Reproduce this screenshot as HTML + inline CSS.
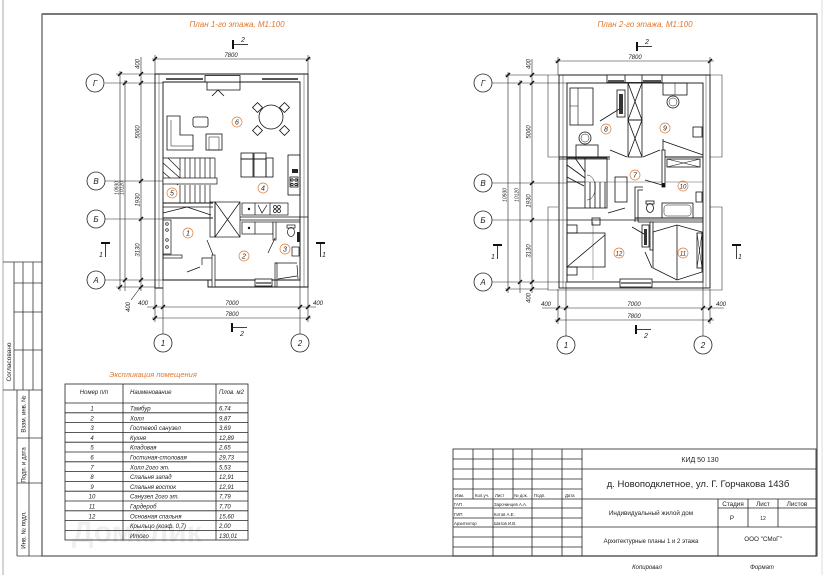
<!DOCTYPE html>
<html><head><meta charset="utf-8">
<style>
html,body{margin:0;padding:0;background:#fff;}
svg{display:block;}
text{font-family:"Liberation Sans","DejaVu Sans",sans-serif;fill:#222;}
.it{font-style:italic;}
.or{fill:#e0782f;}
</style></head><body>
<svg width="826" height="575" viewBox="0 0 826 575" xmlns="http://www.w3.org/2000/svg">
<rect width="826" height="575" fill="#fff"/>

<!-- watermark -->
<text x="72" y="542" font-size="30" font-weight="bold" style="fill:#efefef">Домклик</text>

<!-- page frame -->
<line x1="3" y1="0" x2="3" y2="575" stroke="#aaa" stroke-width="1"/>
<line x1="822" y1="0" x2="822" y2="575" stroke="#ddd" stroke-width="1"/>
<rect x="42" y="14" width="775" height="542" fill="none" stroke="#555" stroke-width="1.2"/>
<line x1="42" y1="14" x2="817" y2="14" stroke="#777" stroke-width="2"/>

<!-- left strip -->
<g stroke="#333" stroke-width="0.8" fill="none">
<line x1="3" y1="262" x2="42" y2="262"/>
<line x1="14" y1="262" x2="14" y2="390"/>
<line x1="23" y1="262" x2="23" y2="390"/>
<line x1="33" y1="262" x2="33" y2="390"/>
<line x1="14" y1="283" x2="42" y2="283"/>
<line x1="14" y1="312" x2="42" y2="312"/>
<line x1="14" y1="350" x2="42" y2="350"/>
<line x1="3" y1="390" x2="42" y2="390"/>
<line x1="17" y1="390" x2="17" y2="556"/>
<line x1="29" y1="390" x2="29" y2="556"/>
<line x1="17" y1="438" x2="42" y2="438"/>
<line x1="17" y1="483" x2="42" y2="483"/>
<line x1="17" y1="556" x2="42" y2="556"/>
</g>
<g font-size="6.5" text-anchor="middle">
<text transform="translate(11,362) rotate(-90)">Согласовано</text>
<text transform="translate(25.5,414) rotate(-90)" font-size="6">Взам. инв. №</text>
<text transform="translate(25.5,465) rotate(-90)" font-size="6">Подп. и дата</text>
<text transform="translate(25.5,530) rotate(-90)" font-size="6">Инв. № подл.</text>
</g>

<!-- ================= FIRST FLOOR ================= -->
<text x="237" y="27" class="it or" font-size="8" text-anchor="middle">План 1-го этажа, М1:100</text>

<!-- section marks 2 -->
<g stroke="#111" fill="none">
<line x1="233" y1="40" x2="233" y2="49" stroke-width="2"/>
<line x1="233" y1="44.5" x2="248" y2="44.5" stroke-width="0.8"/>
<line x1="232" y1="323" x2="232" y2="332" stroke-width="2"/>
<line x1="232" y1="327.5" x2="247" y2="327.5" stroke-width="0.8"/>
<!-- section 1 -->
<line x1="101" y1="243" x2="110" y2="243" stroke-width="2"/>
<line x1="105.5" y1="243" x2="105.5" y2="257" stroke-width="0.8"/>
<line x1="316" y1="243" x2="325" y2="243" stroke-width="2"/>
<line x1="320.5" y1="243" x2="320.5" y2="257" stroke-width="0.8"/>
</g>
<g class="it" font-size="7">
<text x="241" y="42">2</text>
<text x="240" y="336">2</text>
<text x="99" y="257">1</text>
<text x="322" y="257">1</text>
</g>

<!-- dimension lines first floor -->
<g stroke="#222" stroke-width="0.6" fill="none">
<line x1="152" y1="59" x2="311" y2="59"/>
<line x1="155" y1="55" x2="155" y2="74"/>
<line x1="308" y1="55" x2="308" y2="74"/>
<line x1="147" y1="307" x2="316" y2="307"/>
<line x1="152" y1="318" x2="311" y2="318"/>
<line x1="155" y1="287" x2="155" y2="322"/>
<line x1="308" y1="287" x2="308" y2="322"/>
<line x1="163" y1="280" x2="163" y2="334"/>
<line x1="300" y1="280" x2="300" y2="334"/>
<line x1="141" y1="57" x2="141" y2="291"/>
<line x1="125" y1="80" x2="125" y2="291"/>
<line x1="120" y1="71" x2="120" y2="291"/>
<line x1="116" y1="74" x2="155" y2="74"/>
<line x1="116" y1="287" x2="155" y2="287"/>
<line x1="105" y1="83" x2="163" y2="83"/>
<line x1="105" y1="181" x2="163" y2="181"/>
<line x1="105" y1="219" x2="163" y2="219"/>
<line x1="105" y1="280" x2="163" y2="280"/>
<line x1="140" y1="288" x2="131" y2="300"/>
</g>
<g stroke="#111" stroke-width="1.4">
<line x1="153" y1="61" x2="157" y2="57"/><line x1="306" y1="61" x2="310" y2="57"/>
<line x1="153" y1="309" x2="157" y2="305"/><line x1="161" y1="309" x2="165" y2="305"/>
<line x1="298" y1="309" x2="302" y2="305"/><line x1="306" y1="309" x2="310" y2="305"/>
<line x1="153" y1="320" x2="157" y2="316"/><line x1="306" y1="320" x2="310" y2="316"/>
<line x1="139" y1="76" x2="143" y2="72"/><line x1="139" y1="85" x2="143" y2="81"/>
<line x1="139" y1="183" x2="143" y2="179"/><line x1="139" y1="221" x2="143" y2="217"/>
<line x1="139" y1="282" x2="143" y2="278"/><line x1="139" y1="289" x2="143" y2="285"/>
<line x1="123" y1="85" x2="127" y2="81"/><line x1="123" y1="282" x2="127" y2="278"/>
<line x1="118" y1="76" x2="122" y2="72"/><line x1="118" y1="289" x2="122" y2="285"/>
</g>
<g class="it" font-size="6" text-anchor="middle">
<text x="231" y="57">7800</text>
<text x="143" y="305">400</text>
<text x="232" y="305">7000</text>
<text x="318" y="305">400</text>
<text x="232" y="316">7800</text>
<text transform="translate(139.5,64) rotate(-90)">400</text>
<text transform="translate(139.5,132) rotate(-90)">5060</text>
<text transform="translate(139.5,200) rotate(-90)">1930</text>
<text transform="translate(139.5,250) rotate(-90)">3130</text>
<text transform="translate(118.5,188) rotate(-90)" font-size="5">10930</text>
<text transform="translate(123.5,188) rotate(-90)" font-size="5">10120</text>
<text transform="translate(130,307) rotate(-90)">400</text>
</g>
<!-- grid circles -->
<g stroke="#222" stroke-width="0.8" fill="#fff">
<circle cx="95" cy="83" r="9"/><circle cx="96" cy="181" r="9"/>
<circle cx="96" cy="219" r="9"/><circle cx="96" cy="280" r="9"/>
<circle cx="163" cy="343" r="9"/><circle cx="300" cy="343" r="9"/>
</g>
<g class="it" font-size="8" text-anchor="middle">
<text x="95" y="86">Г</text><text x="96" y="184">В</text>
<text x="96" y="222">Б</text><text x="96" y="283">А</text>
<text x="163" y="346">1</text><text x="300" y="346">2</text>
</g>

<!-- walls -->
<g stroke="#111" stroke-width="0.9" fill="none">
<path d="M155,74 H308 V287 H208 V280"/>
<path d="M155,74 V288 H163"/>
<path d="M163,82 H300 V280 H163 Z"/>
<line x1="159" y1="74" x2="159" y2="288" stroke-width="0.4"/>
<line x1="304" y1="74" x2="304" y2="287" stroke-width="0.4"/>
</g>
<!-- windows -->
<g stroke="#555" stroke-width="2">
<line x1="166" y1="79" x2="203" y2="79"/>
<line x1="262" y1="79" x2="298" y2="79"/>
</g>
<rect x="255" y="279" width="17" height="7" fill="#fff" stroke="#111" stroke-width="0.8"/>
<line x1="256" y1="283" x2="271" y2="283" stroke="#555" stroke-width="1.5"/>
<!-- fireplace -->
<g stroke="#111" stroke-width="0.8" fill="#fff">
<rect x="205" y="75.5" width="35" height="6.5"/>
<path d="M207,82 V90 H240 V82" fill="none"/>
<path d="M212,96 L218,90 L224,96" fill="none"/>
</g>

<!-- living furniture -->
<g stroke="#111" stroke-width="0.8" fill="none">
<path d="M167,116 H180 V135 H193 V150 H167 Z"/>
<path d="M171,120 V146 H193" stroke-width="0.5"/>
<rect x="193" y="117" width="15" height="10" rx="2"/>
<rect x="206" y="134" width="16" height="16"/>
<rect x="209" y="137" width="10" height="13" stroke-width="0.5"/>
<circle cx="271" cy="117" r="12"/>
<rect x="254" y="104" width="7" height="7" transform="rotate(45 257.5 107.5)"/>
<rect x="281" y="104" width="7" height="7" transform="rotate(45 284.5 107.5)"/>
<rect x="254" y="127" width="7" height="7" transform="rotate(45 257.5 130.5)"/>
<rect x="281" y="127" width="7" height="7" transform="rotate(45 284.5 130.5)"/>
<!-- bar stools -->
<rect x="241" y="153" width="12" height="6"/>
<rect x="254" y="153" width="12" height="6"/>
<rect x="241" y="159" width="12" height="18"/>
<rect x="254" y="159" width="12" height="18"/>
<rect x="266" y="158" width="7" height="19"/>
<!-- kitchen right -->
<rect x="288" y="155" width="12" height="40"/>
<rect x="290" y="177" width="8" height="10"/>
<circle cx="292" cy="180" r="1.2"/><circle cx="296" cy="180" r="1.2"/>
<circle cx="292" cy="184.5" r="1.2"/><circle cx="296" cy="184.5" r="1.2"/>
</g>
<rect x="292" y="169" width="6" height="4" fill="#222"/>

<!-- stairs first floor -->
<g stroke="#111" stroke-width="0.7" fill="none">
<path d="M163,158 H215"/>
<path d="M180,158 V178 M185,158 V178 M190,158 V178 M195,158 V178 M200,158 V178 M205,158 V178 M210,158 V178 M215,158 V178"/>
<path d="M163,163 L180,178 M168,158 L180,170 M163,172 L178,185"/>
<rect x="163" y="178" width="54" height="6" fill="#fff"/>
<path d="M180,185 V203 M185,185 V203 M190,185 V203 M195,185 V203 M200,185 V203 M205,185 V203 M210,185 V203"/>
<line x1="163" y1="203" x2="213" y2="203" stroke-width="0.9"/>
<line x1="163" y1="207" x2="213" y2="207"/>
<path d="M163,213 L187,207 L211,215"/>
<line x1="163" y1="218" x2="213" y2="218" stroke-width="0.9"/>
<rect x="210" y="202" width="5" height="35"/>
<rect x="215" y="202" width="25" height="35"/>
<path d="M215,202 L240,237 M240,202 L215,237"/>
<!-- kitchen counters -->
<rect x="242" y="203" width="46" height="12"/>
<line x1="255" y1="203" x2="255" y2="215"/>
<line x1="270" y1="203" x2="270" y2="215"/>
<path d="M258,205 L262,213 L267,205"/>
<circle cx="275" cy="207" r="1.5"/><circle cx="279" cy="207" r="1.5"/>
<circle cx="275" cy="211" r="1.5"/><circle cx="279" cy="211" r="1.5"/>
<line x1="240" y1="217" x2="308" y2="217"/>
<line x1="240" y1="220" x2="300" y2="220"/>
<rect x="242" y="222" width="31" height="12"/>
<line x1="255" y1="222" x2="255" y2="234"/>
<!-- bathroom 3 -->
<rect x="273" y="222" width="3" height="18" fill="#fff"/>
<line x1="276" y1="222" x2="300" y2="222"/>
<ellipse cx="291" cy="232" rx="3.5" ry="4.5"/>
<rect x="287" y="225" width="8" height="3"/>
<rect x="292" y="247" width="7" height="9"/>
<line x1="275" y1="263" x2="297" y2="263"/>
<rect x="275" y="263" width="2" height="24"/>
<path d="M297,265 L298,279 M278,279 L297,276"/>
<!-- room 1 -->
<rect x="163" y="220" width="8" height="34"/>
<circle cx="167" cy="224" r="1.3"/><circle cx="167" cy="230" r="1.3"/>
<circle cx="167" cy="240" r="1.3"/><circle cx="167" cy="247" r="1.3"/>
<rect x="163" y="255" width="19" height="3"/>
<path d="M207,240 L213,255"/>
<rect x="212" y="255" width="3" height="32" fill="#fff"/>
<path d="M202,265 V258 H212"/>
<path d="M187,272 L200,267"/>
<path d="M268,253 L275,238"/>
</g>
<rect x="297" y="232" width="3" height="10" fill="#222"/>
<circle cx="249" cy="209" r="1.2" fill="#111"/>
<circle cx="249" cy="228" r="1.2" fill="#111"/>

<!-- room labels first floor -->
<g stroke="#e0782f" stroke-width="0.7" fill="none">
<circle cx="237" cy="122" r="5"/><circle cx="263" cy="188" r="5"/>
<circle cx="172" cy="193" r="5"/><circle cx="188" cy="233" r="5"/>
<circle cx="244" cy="256" r="5"/><circle cx="285" cy="249" r="5"/>
</g>
<g class="it or" font-size="7" text-anchor="middle">
<text x="237" y="124.5">6</text><text x="263" y="190.5">4</text>
<text x="172" y="195.5">5</text><text x="188" y="235.5">1</text>
<text x="244" y="258.5">2</text><text x="285" y="251.5">3</text>
</g>

<!-- ================= SECOND FLOOR ================= -->
<text x="645" y="27" class="it or" font-size="8" text-anchor="middle">План 2-го этажа, М1:100</text>

<g stroke="#111" fill="none">
<line x1="637" y1="42" x2="637" y2="51" stroke-width="2"/>
<line x1="637" y1="46.5" x2="652" y2="46.5" stroke-width="0.8"/>
<line x1="636" y1="325" x2="636" y2="334" stroke-width="2"/>
<line x1="636" y1="329.5" x2="651" y2="329.5" stroke-width="0.8"/>
<line x1="493" y1="245" x2="502" y2="245" stroke-width="2"/>
<line x1="497.5" y1="245" x2="497.5" y2="259" stroke-width="0.8"/>
<line x1="732" y1="245" x2="741" y2="245" stroke-width="2"/>
<line x1="736.5" y1="245" x2="736.5" y2="259" stroke-width="0.8"/>
</g>
<g class="it" font-size="7">
<text x="645" y="44">2</text>
<text x="644" y="338">2</text>
<text x="491" y="259">1</text>
<text x="738" y="259">1</text>
</g>

<g stroke="#222" stroke-width="0.6" fill="none">
<line x1="555" y1="61" x2="714" y2="61"/>
<line x1="558" y1="57" x2="558" y2="75"/>
<line x1="710" y1="57" x2="710" y2="75"/>
<line x1="542" y1="308" x2="724" y2="308"/>
<line x1="555" y1="320" x2="714" y2="320"/>
<line x1="558" y1="289" x2="558" y2="324"/>
<line x1="710" y1="289" x2="710" y2="324"/>
<line x1="566" y1="282" x2="566" y2="336"/>
<line x1="703" y1="282" x2="703" y2="336"/>
<line x1="532" y1="59" x2="532" y2="293"/>
<line x1="520" y1="80" x2="520" y2="293"/>
<line x1="508" y1="72" x2="508" y2="293"/>
<line x1="505" y1="75" x2="548" y2="75"/>
<line x1="505" y1="289" x2="548" y2="289"/>
<line x1="492" y1="83" x2="567" y2="83"/>
<line x1="492" y1="183" x2="567" y2="183"/>
<line x1="492" y1="220" x2="567" y2="220"/>
<line x1="492" y1="282" x2="567" y2="282"/>
</g>
<g stroke="#111" stroke-width="1.4">
<line x1="556" y1="63" x2="560" y2="59"/><line x1="708" y1="63" x2="712" y2="59"/>
<line x1="556" y1="310" x2="560" y2="306"/><line x1="564" y1="310" x2="568" y2="306"/>
<line x1="701" y1="310" x2="705" y2="306"/><line x1="708" y1="310" x2="712" y2="306"/>
<line x1="556" y1="322" x2="560" y2="318"/><line x1="708" y1="322" x2="712" y2="318"/>
<line x1="530" y1="77" x2="534" y2="73"/><line x1="530" y1="85" x2="534" y2="81"/>
<line x1="530" y1="185" x2="534" y2="181"/><line x1="530" y1="222" x2="534" y2="218"/>
<line x1="530" y1="284" x2="534" y2="280"/><line x1="530" y1="291" x2="534" y2="287"/>
<line x1="518" y1="85" x2="522" y2="81"/><line x1="518" y1="284" x2="522" y2="280"/>
<line x1="506" y1="77" x2="510" y2="73"/><line x1="506" y1="291" x2="510" y2="287"/>
</g>
<g class="it" font-size="6" text-anchor="middle">
<text x="635" y="59">7800</text>
<text x="546" y="306">400</text>
<text x="634" y="306">7000</text>
<text x="721" y="306">400</text>
<text x="634" y="318">7800</text>
<text transform="translate(530.5,64) rotate(-90)">400</text>
<text transform="translate(530.5,132) rotate(-90)">5060</text>
<text transform="translate(530.5,201) rotate(-90)">1930</text>
<text transform="translate(530.5,251) rotate(-90)">3130</text>
<text transform="translate(506.5,195) rotate(-90)" font-size="5">10930</text>
<text transform="translate(518.5,195) rotate(-90)" font-size="5">10120</text>
<text transform="translate(530.5,298) rotate(-90)">400</text>
</g>
<g stroke="#222" stroke-width="0.8" fill="#fff">
<circle cx="483" cy="83" r="9"/><circle cx="483" cy="183" r="9"/>
<circle cx="483" cy="220" r="9"/><circle cx="483" cy="282" r="9"/>
<circle cx="566" cy="345" r="9"/><circle cx="703" cy="345" r="9"/>
</g>
<g class="it" font-size="8" text-anchor="middle">
<text x="483" y="86">Г</text><text x="483" y="186">В</text>
<text x="483" y="223">Б</text><text x="483" y="285">А</text>
<text x="566" y="348">1</text><text x="703" y="348">2</text>
</g>

<!-- eaves outline -->
<g stroke="#333" stroke-width="0.6" fill="none">
<path d="M558,157 H548 V75 H722 V157 H710"/>
<path d="M558,207 H548 V290 H722 V207 H710"/>
<line x1="567" y1="182" x2="703" y2="182" stroke-width="0.4"/>
<line x1="593" y1="222" x2="593" y2="280" stroke-width="0.4"/>
</g>
<!-- walls -->
<g stroke="#111" stroke-width="0.9" fill="none">
<rect x="559" y="75" width="151" height="213"/>
<rect x="567" y="83" width="136" height="199"/>
<line x1="563" y1="75" x2="563" y2="288" stroke-width="0.4"/>
<line x1="706" y1="75" x2="706" y2="288" stroke-width="0.4"/>
</g>
<rect x="607" y="75" width="55" height="7.5" fill="#fff" stroke="#111" stroke-width="0.8"/>
<rect x="625" y="75" width="17" height="7.5" fill="#fff" stroke="#111" stroke-width="0.8"/>
<g stroke="#555" stroke-width="2">
<line x1="608" y1="81" x2="624" y2="81"/>
<line x1="643" y1="81" x2="661" y2="81"/>
</g>
<rect x="620" y="279" width="32" height="8" fill="#fff" stroke="#111" stroke-width="0.8"/>
<line x1="621" y1="283" x2="651" y2="283" stroke="#555" stroke-width="1.5"/>

<g stroke="#111" stroke-width="0.8" fill="none">
<!-- closets center -->
<rect x="628" y="83" width="14" height="37"/>
<path d="M628,83 L642,120 M642,83 L628,120"/>
<rect x="628" y="120" width="14" height="37"/>
<path d="M628,120 L642,157 M642,120 L628,157"/>
<!-- bedroom 8 -->
<rect x="570" y="88" width="23" height="37"/>
<path d="M578,88 V125 M570,106 H578" stroke-width="0.6"/>
<rect x="617" y="90" width="8" height="27"/>
<path d="M600,121 L621,108"/>
<circle cx="585" cy="138" r="6"/>
<circle cx="585" cy="138" r="4" stroke-width="0.5"/>
<rect x="576" y="145" width="22" height="12"/>
<line x1="559" y1="157" x2="610" y2="157" stroke-width="1"/>
<line x1="559" y1="159" x2="610" y2="159"/>
<path d="M610,150 L627,157 M643,157 L660,150"/>
<line x1="662" y1="157" x2="703" y2="157" stroke-width="1"/>
<!-- bedroom 9 -->
<rect x="663" y="83" width="24" height="12"/>
<line x1="675" y1="83" x2="675" y2="95" stroke-width="0.5"/>
<circle cx="673" cy="102" r="6"/>
<circle cx="673" cy="102" r="4" stroke-width="0.5"/>
<rect x="693" y="127" width="9" height="10"/>
<path d="M663,139 V157 M663,141 L703,155"/>
<rect x="667" y="159" width="33" height="8"/>
<path d="M667,159 L700,167 M700,159 L667,167" stroke-width="0.6"/>
<!-- stairs -->
<rect x="567" y="158" width="40" height="50"/>
<path d="M567,165 L585,178 M575,158 L585,172 M567,177 L584,186"/>
<path d="M585,158 V208 M590,182 V208 M595,182 V208 M600,182 V208 M605,182 V208"/>
<path d="M567,182 H585"/>
<path d="M587,175 A8,12 0 0 1 587,200" stroke-width="0.5"/>
<!-- room 7 -->
<rect x="615" y="177" width="12" height="25"/>
<path d="M635,222 V187 H643 M638,222 V190 H643"/>
<path d="M645,180 L662,185"/>
<rect x="662" y="150" width="3" height="37" fill="#fff"/>
<path d="M608,213 L625,208"/>
<rect x="592" y="218" width="8" height="7"/>
<!-- bathroom 10 -->
<ellipse cx="650" cy="208" rx="3.5" ry="4.5"/>
<rect x="646" y="201" width="8" height="3"/>
<rect x="662" y="203" width="31" height="15"/>
<rect x="664" y="205" width="27" height="11" rx="3" stroke-width="0.5"/>
<rect x="696" y="192" width="6" height="10"/>
<line x1="635" y1="218" x2="703" y2="218" stroke-width="1"/>
<line x1="567" y1="220" x2="703" y2="220"/>
<line x1="638" y1="222" x2="703" y2="222"/>
<!-- bedroom 12 -->
<rect x="567" y="233" width="38" height="34"/>
<path d="M567,267 L605,235"/>
<rect x="567" y="225" width="10" height="8"/>
<rect x="567" y="267" width="10" height="8"/>
<rect x="642" y="225" width="7" height="22"/>
<path d="M632,227 L644,234 M645,252 L652,268"/>
<rect x="650" y="222" width="3" height="28" fill="#fff"/>
<!-- room 11 wardrobe -->
<path d="M653,232 L677,225 L702,232 V272 L677,280 L653,268 Z"/>
<line x1="677" y1="225" x2="677" y2="280"/>
<rect x="697" y="233" width="5" height="35"/>
<path d="M697,233 L702,268 M702,233 L697,268" stroke-width="0.5"/>
</g>
<rect x="619" y="94" width="4" height="20" fill="#333"/>
<rect x="644" y="229" width="3" height="16" fill="#333"/>
<rect x="662" y="183" width="3" height="4" fill="#111"/>

<g stroke="#e0782f" stroke-width="0.7" fill="none">
<circle cx="606" cy="129" r="5"/><circle cx="665" cy="128" r="5"/>
<circle cx="635" cy="175" r="5"/><circle cx="683" cy="186" r="5"/>
<circle cx="619" cy="253" r="5"/><circle cx="683" cy="253" r="5"/>
</g>
<g class="it or" font-size="7" text-anchor="middle">
<text x="606" y="131.5">8</text><text x="665" y="130.5">9</text>
<text x="635" y="177.5">7</text><text x="683" y="188.5" font-size="6">10</text>
<text x="619" y="255.5" font-size="6">12</text><text x="683" y="255.5" font-size="6">11</text>
</g>

<!-- ================= TABLE ================= -->
<text x="153" y="377" class="it or" font-size="7.5" text-anchor="middle">Экспликация помещения</text>
<g stroke="#222" stroke-width="0.8" fill="none">
<rect x="65" y="384" width="183" height="156"/>
<line x1="123" y1="384" x2="123" y2="540"/>
<line x1="216" y1="384" x2="216" y2="540"/>
<line x1="65" y1="403" x2="248" y2="403"/>
<line x1="65" y1="412.8" x2="248" y2="412.8"/>
<line x1="65" y1="422.6" x2="248" y2="422.6"/>
<line x1="65" y1="432.4" x2="248" y2="432.4"/>
<line x1="65" y1="442.2" x2="248" y2="442.2"/>
<line x1="65" y1="452" x2="248" y2="452"/>
<line x1="65" y1="461.8" x2="248" y2="461.8"/>
<line x1="65" y1="471.6" x2="248" y2="471.6"/>
<line x1="65" y1="481.4" x2="248" y2="481.4"/>
<line x1="65" y1="491.2" x2="248" y2="491.2"/>
<line x1="65" y1="501" x2="248" y2="501"/>
<line x1="65" y1="510.8" x2="248" y2="510.8"/>
<line x1="65" y1="520.6" x2="248" y2="520.6"/>
<line x1="65" y1="530.4" x2="248" y2="530.4"/>
</g>
<g class="it" font-size="6">
<text x="94" y="394" text-anchor="middle">Номер п/п</text>
<text x="130" y="394">Наименование</text>
<text x="219" y="394">Плов. м2</text>
</g>
<g class="it" font-size="6" text-anchor="middle">
<text x="92" y="410.5">1</text><text x="92" y="420.3">2</text><text x="92" y="430.1">3</text>
<text x="92" y="439.9">4</text><text x="92" y="449.7">5</text><text x="92" y="459.5">6</text>
<text x="92" y="469.3">7</text><text x="92" y="479.1">8</text><text x="92" y="488.9">9</text>
<text x="92" y="498.7">10</text><text x="92" y="508.5">11</text><text x="92" y="518.3">12</text>
</g>
<g class="it" font-size="6">
<text x="130" y="410.5">Тамбур</text>
<text x="130" y="420.3">Холл</text>
<text x="130" y="430.1">Гостевой санузел</text>
<text x="130" y="439.9">Кухня</text>
<text x="130" y="449.7">Кладовая</text>
<text x="130" y="459.5">Гостиная-столовая</text>
<text x="130" y="469.3">Холл 2ого эт.</text>
<text x="130" y="479.1">Спальня запад</text>
<text x="130" y="488.9">Спальня восток</text>
<text x="130" y="498.7">Санузел 2ого эт.</text>
<text x="130" y="508.5">Гардероб</text>
<text x="130" y="518.3">Основная спальня</text>
<text x="130" y="528.1">Крыльцо (коэф. 0,7)</text>
<text x="130" y="537.9">Итого</text>
<text x="219" y="410.5">6,74</text>
<text x="219" y="420.3">9,87</text>
<text x="219" y="430.1">3,69</text>
<text x="219" y="439.9">12,89</text>
<text x="219" y="449.7">2,65</text>
<text x="219" y="459.5">29,73</text>
<text x="219" y="469.3">5,53</text>
<text x="219" y="479.1">12,91</text>
<text x="219" y="488.9">12,91</text>
<text x="219" y="498.7">7,79</text>
<text x="219" y="508.5">7,70</text>
<text x="219" y="518.3">15,60</text>
<text x="219" y="528.1">2,00</text>
<text x="219" y="537.9">130,01</text>
</g>

<!-- ================= TITLE BLOCK ================= -->
<g stroke="#222" stroke-width="0.8" fill="none">
<rect x="453" y="449" width="363" height="107"/>
<line x1="582" y1="449" x2="582" y2="556"/>
<line x1="473" y1="449" x2="473" y2="499"/>
<line x1="493" y1="449" x2="493" y2="556"/>
<line x1="513" y1="449" x2="513" y2="499"/>
<line x1="532" y1="449" x2="532" y2="556"/>
<line x1="562" y1="449" x2="562" y2="556"/>
<line x1="453" y1="459" x2="582" y2="459"/>
<line x1="453" y1="469" x2="816" y2="469"/>
<line x1="453" y1="479" x2="582" y2="479"/>
<line x1="453" y1="489" x2="582" y2="489"/>
<line x1="453" y1="499" x2="816" y2="499"/>
<line x1="453" y1="508" x2="582" y2="508"/>
<line x1="453" y1="518" x2="582" y2="518"/>
<line x1="453" y1="527" x2="816" y2="527"/>
<line x1="453" y1="537" x2="582" y2="537"/>
<line x1="453" y1="547" x2="582" y2="547"/>
<line x1="718" y1="499" x2="718" y2="556"/>
<line x1="748" y1="499" x2="748" y2="527"/>
<line x1="778" y1="499" x2="778" y2="527"/>
<line x1="718" y1="508" x2="816" y2="508"/>
</g>
<g font-size="4.3">
<text x="455" y="497">Изм.</text>
<text x="475" y="497">Кол.уч.</text>
<text x="495" y="497">Лист</text>
<text x="514" y="497">№ док.</text>
<text x="534" y="497">Подп.</text>
<text x="565" y="497">Дата</text>
<text x="454" y="506">ГАП</text>
<text x="494" y="506">Зарочинцев А.А.</text>
<text x="454" y="516">ГИП</text>
<text x="494" y="516">Котов А.Е.</text>
<text x="454" y="525">Архитектор</text>
<text x="494" y="525">Шатов И.В.</text>
</g>
<g text-anchor="middle">
<text x="700" y="462" font-size="7">КИД 50 130</text>
<text x="698" y="487" font-size="9.5">д. Новоподклетное, ул. Г. Горчакова 143б</text>
<text x="651" y="515" font-size="6.3">Индивидуальный жилой дом</text>
<text x="733" y="506" font-size="6.3">Стадия</text>
<text x="763" y="506" font-size="6.3">Лист</text>
<text x="797" y="506" font-size="6.3">Листов</text>
<text x="732" y="520" font-size="6.3">Р</text>
<text x="763" y="520" font-size="5">12</text>
<text x="651" y="543" font-size="6">Архитектурные планы 1 и 2 этажа</text>
<text x="763" y="541" font-size="6.3">ООО "СМоГ"</text>
<text x="647" y="569" font-size="6" class="it">Копировал</text>
<text x="762" y="569" font-size="6" class="it">Формат</text>
</g>
</svg>
</body></html>
